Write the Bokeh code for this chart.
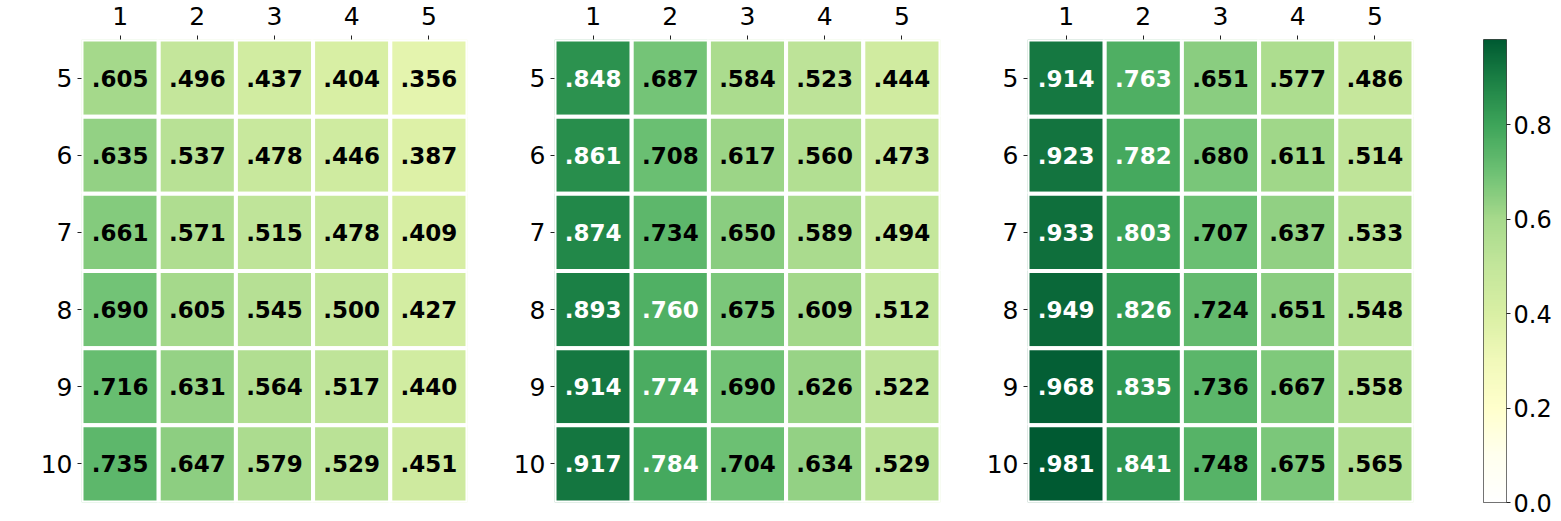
import numpy as np
from bokeh.plotting import figure
from bokeh.layouts import row
from bokeh.models import ColumnDataSource, LinearColorMapper, FixedTicker, Range1d, PrintfTickFormatter
from bokeh.embed import file_html
from bokeh.resources import INLINE
from bokeh.core.properties import value

# ---- data ----
col_labels = [1, 2, 3, 4, 5]
row_labels = [5, 6, 7, 8, 9, 10]

panel_a = [
    [0.605, 0.496, 0.437, 0.404, 0.356],
    [0.635, 0.537, 0.478, 0.446, 0.387],
    [0.661, 0.571, 0.515, 0.478, 0.409],
    [0.690, 0.605, 0.545, 0.500, 0.427],
    [0.716, 0.631, 0.564, 0.517, 0.440],
    [0.735, 0.647, 0.579, 0.529, 0.451],
]
panel_b = [
    [0.848, 0.687, 0.584, 0.523, 0.444],
    [0.861, 0.708, 0.617, 0.560, 0.473],
    [0.874, 0.734, 0.650, 0.589, 0.494],
    [0.893, 0.760, 0.675, 0.609, 0.512],
    [0.914, 0.774, 0.690, 0.626, 0.522],
    [0.917, 0.784, 0.704, 0.634, 0.529],
]
panel_c = [
    [0.914, 0.763, 0.651, 0.577, 0.486],
    [0.923, 0.782, 0.680, 0.611, 0.514],
    [0.933, 0.803, 0.707, 0.637, 0.533],
    [0.949, 0.826, 0.724, 0.651, 0.548],
    [0.968, 0.835, 0.736, 0.667, 0.558],
    [0.981, 0.841, 0.748, 0.675, 0.565],
]
cbar_ticks = [0.0, 0.2, 0.4, 0.6, 0.8]

# ---- colormap (white -> yellow -> green) ----
vmax = max(max(r) for r in panel_a + panel_b + panel_c)
stop_pos = [0.0, 0.1, 0.2, 0.3, 0.4, 0.5, 0.6, 0.7, 0.8, 0.9, vmax]
stop_col = ['#ffffff', '#ffffee', '#ffffcc', '#f1f9ba', '#d9efa4', '#c3e69b',
            '#a7da8c', '#6ec174', '#3ea55a', '#1a7f44', '#005a32']
arr = np.array([[int(c[i:i + 2], 16) for i in (1, 3, 5)] for c in stop_col], dtype=float)
t = np.linspace(0, vmax, 256)
pal = ['#%02x%02x%02x' % tuple(int(round(np.interp(tt, stop_pos, arr[:, k]))) for k in range(3)) for tt in t]

mapper = LinearColorMapper(palette=pal, low=0.0, high=vmax)

FONT = value("DejaVu Sans")


def style_axis(ax, standoff):
    ax.axis_line_color = None
    ax.major_tick_in = 0
    ax.major_tick_out = 4
    ax.minor_tick_line_color = None
    ax.major_tick_line_color = "#222222"
    ax.major_label_text_font = "DejaVu Sans"
    ax.major_label_text_font_size = "25px"
    ax.major_label_text_color = "black"
    ax.major_label_standoff = standoff


def make_panel(vals):
    xs, ys, vs, labs, tcs = [], [], [], [], []
    for i, r in enumerate(row_labels):
        for j, c in enumerate(col_labels):
            v = vals[i][j]
            xs.append(c)
            ys.append(r)
            vs.append(v)
            labs.append(("%.3f" % v).lstrip("0"))
            tcs.append("white" if v > 0.755 else "black")
    src = ColumnDataSource(dict(x=xs, y=ys, v=vs, lab=labs, tc=tcs))
    p = figure(width=473, height=519, output_backend="svg", toolbar_location=None,
               x_range=Range1d(0.5, 5.5), y_range=Range1d(10.5, 4.5),
               x_axis_location="above",
               min_border_left=81, min_border_right=6, min_border_top=39, min_border_bottom=16)
    p.rect(x="x", y="y", width=1, height=1, source=src,
           fill_color={"field": "v", "transform": mapper},
           line_color="white", line_width=4)
    p.text(x="x", y="y", text="lab", source=src, text_color="tc",
           text_align="center", text_baseline="middle",
           text_font=FONT, text_font_style="bold", text_font_size="23px")
    p.xaxis.ticker = FixedTicker(ticks=col_labels)
    p.yaxis.ticker = FixedTicker(ticks=row_labels)
    style_axis(p.xaxis[0], 11)
    style_axis(p.yaxis[0], 5)
    p.grid.visible = False
    p.outline_line_color = None
    return p


p1 = make_panel(panel_a)
p2 = make_panel(panel_b)
p3 = make_panel(panel_c)

# ---- colorbar ----
pc = figure(width=140, height=519, output_backend="svg", toolbar_location=None,
            x_range=Range1d(0, 1), y_range=Range1d(0, vmax),
            y_axis_location="right",
            min_border_left=64, min_border_right=53, min_border_top=39, min_border_bottom=17)
grad = np.linspace(0, vmax, 256).reshape(256, 1)
pc.image(image=[grad], x=0, y=0, dw=1, dh=vmax, color_mapper=mapper)
pc.xaxis.visible = False
pc.grid.visible = False
ay = pc.yaxis[0]
ay.ticker = FixedTicker(ticks=cbar_ticks)
ay.formatter = PrintfTickFormatter(format="%.1f")
style_axis(ay, 3)
ay.major_label_text_font_size = "24px"
pc.outline_line_color = "#444444"
pc.outline_line_width = 1

layout = row(p1, p2, p3, pc)
open("out.html", "w").write(file_html(layout, INLINE))
